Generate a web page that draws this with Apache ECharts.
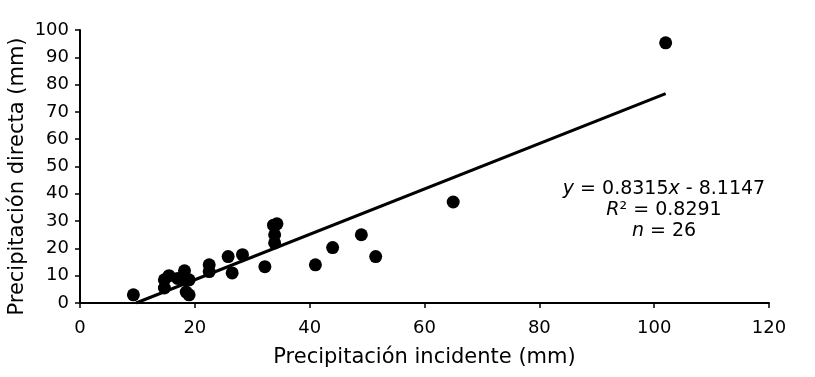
<!DOCTYPE html>
<html><head><meta charset="utf-8">
<script src="https://cdn.jsdelivr.net/npm/echarts@6/dist/echarts.min.js"></script>
<style>html,body{margin:0;padding:0;background:#fff}#c{width:815px;height:377px}</style>
</head><body><div id="c"></div>
<script>
const incidente = [9.3,14.7,14.7,15.5,17.0,18.2,18.5,18.5,19.0,19.0,22.5,22.5,25.8,26.5,28.3,32.2,33.7,34.3,33.9,33.9,41.0,44.0,49.0,51.5,65.0,102.0];
const directa   = [3.0,5.5,8.5,10.0,9.0,11.8,8.5,4.0,3.0,8.5,14.0,11.5,17.0,11.0,17.7,13.3,28.5,29.0,25.0,22.0,14.0,20.3,25.0,17.0,37.0,95.3];
const slope = 0.8315, intercept = -8.1147;
const trendX = [-intercept/slope, 102.0];
const xTicks = [0,20,40,60,80,100,120];
const yTicks = [0,10,20,30,40,50,60,70,80,90,100];

const pts = incidente.map((x,i)=>[x,directa[i]]);
const trend = trendX.map(x=>[x, slope*x+intercept]);
const font = 'DejaVu Sans, Verdana, sans-serif';
const chart = echarts.init(document.getElementById('c'));
chart.setOption({
  animation:false,
  grid:{left:80,right:46,top:30,bottom:74,containLabel:false,outerBoundsMode:'none'},
  title:{
    left:659, top:174, textAlign:'center',
    text:'{i|y} = 0.8315{i|x} - 8.1147\n{i|R}² = 0.8291\n{i|n} = 26',
    textStyle:{fontFamily:font,fontSize:19,fontWeight:'normal',color:'#000',lineHeight:21,
      rich:{i:{fontStyle:'italic',fontFamily:font,fontSize:19,color:'#000',lineHeight:21}}}
  },
  xAxis:{type:'value',min:0,max:120,interval:20,
    name:'Precipitación incidente (mm)',nameLocation:'middle',nameGap:44,nameMoveOverlap:false,
    nameTextStyle:{fontFamily:font,fontSize:21,color:'#000'},
    axisLine:{lineStyle:{color:'#000',width:2}},
    axisTick:{show:true,length:5,lineStyle:{color:'#000',width:1.5}},
    axisLabel:{fontFamily:font,fontSize:18,color:'#000',margin:16,formatter:v=>xTicks.includes(v)?String(v):''},
    splitLine:{show:false}},
  yAxis:{type:'value',min:0,max:100,interval:10,
    name:'Precipitación directa (mm)',nameLocation:'middle',nameGap:52,nameMoveOverlap:false,
    nameTextStyle:{fontFamily:font,fontSize:21,color:'#000',padding:[0,20,0,0]},
    axisLine:{show:true,lineStyle:{color:'#000',width:2}},
    axisTick:{show:true,length:5,lineStyle:{color:'#000',width:1.5}},
    axisLabel:{fontFamily:font,fontSize:18,color:'#000',margin:11,formatter:v=>yTicks.includes(v)?String(v):''},
    splitLine:{show:false}},
  series:[
    {type:'line',data:trend,symbol:'none',lineStyle:{color:'#000',width:3},z:2},
    {type:'scatter',data:pts,symbol:'circle',symbolSize:13,itemStyle:{color:'#000',opacity:1},z:3}
  ]
});
</script></body></html>
